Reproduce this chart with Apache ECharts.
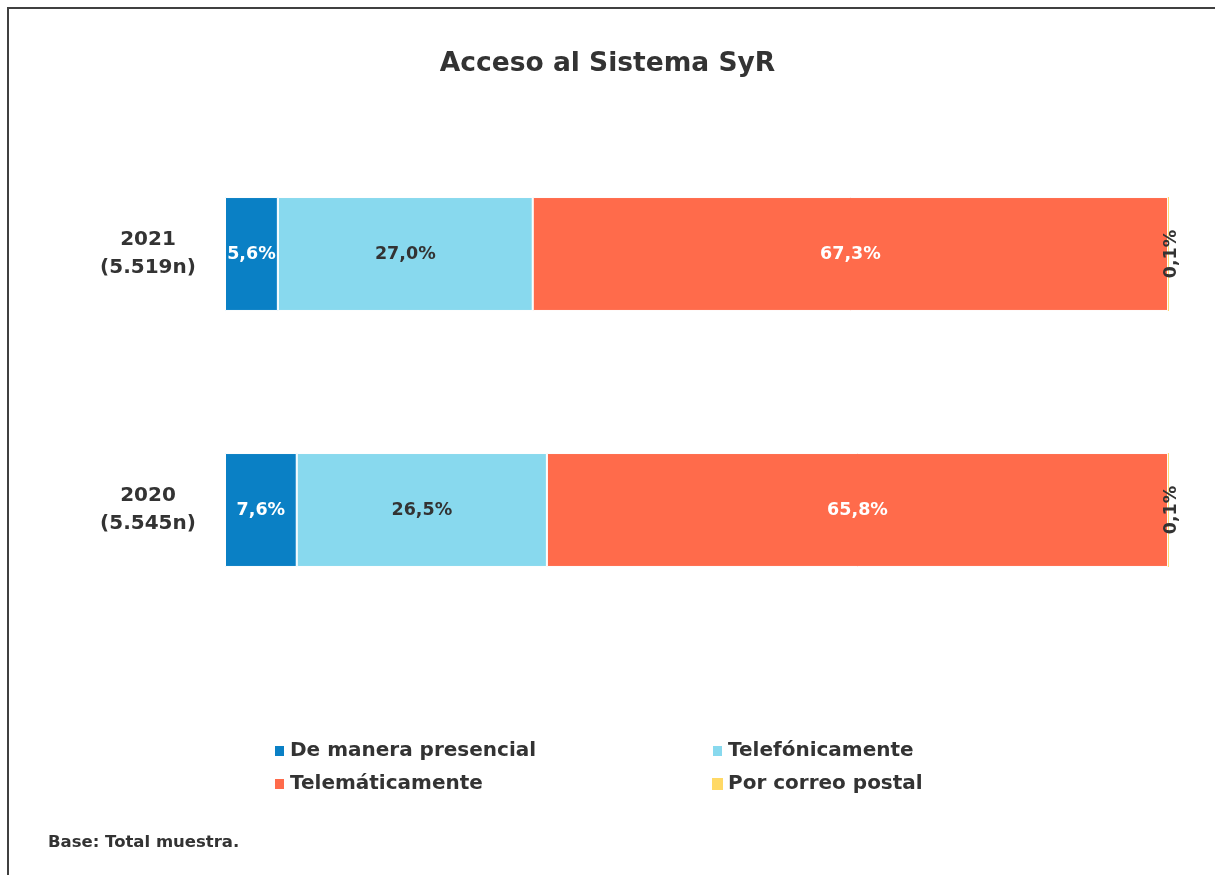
<!DOCTYPE html>
<html>
<head>
<meta charset="utf-8">
<script src="https://cdn.jsdelivr.net/npm/echarts@6/dist/echarts.min.js"></script>
<style>
html,body{margin:0;padding:0;background:#fff;}
#wrap{position:relative;width:1215px;height:875px;}
#chart{position:absolute;left:0;top:0;width:1215px;height:875px;}
#frame{position:absolute;left:7px;top:7px;right:0;bottom:0;border-left:2px solid #404040;border-top:2px solid #404040;pointer-events:none;}
</style>
</head>
<body>
<div id="wrap"><div id="chart"></div><div id="frame"></div></div>
<script>
const years = ['2020', '2021'];
const sampleSizes = ['5.545n', '5.519n'];
const seriesNames = ['De manera presencial', 'Telefónicamente', 'Telemáticamente', 'Por correo postal'];
const presencial = [7.6, 5.6];
const telefonicamente = [26.5, 27.0];
const telematicamente = [65.8, 67.3];
const correoPostal = [0.1, 0.1];
const seriesValues = [presencial, telefonicamente, telematicamente, correoPostal];
const colors = ['#0A80C5', '#88D9EE', '#FF6B4B', '#FFD966'];
const labelColors = ['#ffffff', '#333333', '#ffffff', '#333333'];

const FONT = '"DejaVu Sans", sans-serif';
const categories = years.map((y, i) => y + '\n(' + sampleSizes[i] + ')');
const fmt = v => v.toFixed(1).replace('.', ',') + '%';

const chart = echarts.init(document.getElementById('chart'));
const series = seriesNames.map((name, i) => ({
  name: name,
  type: 'bar',
  stack: 'total',
  barWidth: '44.5%',
  data: seriesValues[i],
  itemStyle: { color: colors[i], borderColor: '#ffffff', borderWidth: i === 3 ? 0 : 1 },
  label: {
    show: true,
    position: i === 3 ? 'right' : 'inside',
    rotate: i === 3 ? 90 : 0,
    distance: i === 3 ? 2 : 5,
    align: i === 3 ? 'center' : undefined,
    verticalAlign: i === 3 ? 'middle' : undefined,
    color: labelColors[i],
    fontFamily: FONT,
    fontWeight: 'bold',
    fontSize: 17.5,
    formatter: p => fmt(p.value)
  }
}));

chart.setOption({
  animation: false,
  color: colors,
  title: {
    text: 'Acceso al Sistema SyR',
    left: 'center',
    top: 46,
    textStyle: { fontFamily: FONT, fontWeight: 'bold', fontSize: 26.5, color: '#333333' }
  },
  grid: { left: 225, right: 46, top: 126, bottom: 237 },
  xAxis: {
    type: 'value', min: 0, max: 100, show: false
  },
  yAxis: {
    type: 'category',
    data: categories,
    axisLine: { show: false },
    axisTick: { show: false },
    axisLabel: {
      align: 'center',
      margin: 77,
      padding: [6, 0, 0, 0],
      color: '#333333',
      fontFamily: FONT,
      fontWeight: 'bold',
      fontSize: 20,
      lineHeight: 28
    }
  },
  legend: [
    {
      data: [seriesNames[0], seriesNames[2]],
      orient: 'vertical', left: 268, top: 736, itemGap: 13,
      itemWidth: 11, itemHeight: 12, icon: 'rect',
      textStyle: { fontFamily: FONT, fontWeight: 'bold', fontSize: 20, color: '#333333' }
    },
    {
      data: [seriesNames[1], seriesNames[3]],
      orient: 'vertical', left: 706, top: 736, itemGap: 13,
      itemWidth: 11, itemHeight: 12, icon: 'rect',
      textStyle: { fontFamily: FONT, fontWeight: 'bold', fontSize: 20, color: '#333333' }
    }
  ],
  graphic: [{
    type: 'text', left: 48, top: 834,
    style: { text: 'Base: Total muestra.', fontFamily: FONT, fontWeight: 'bold', fontSize: 16.5, fill: '#333333' }
  }],
  series: series
});
</script>
</body>
</html>
